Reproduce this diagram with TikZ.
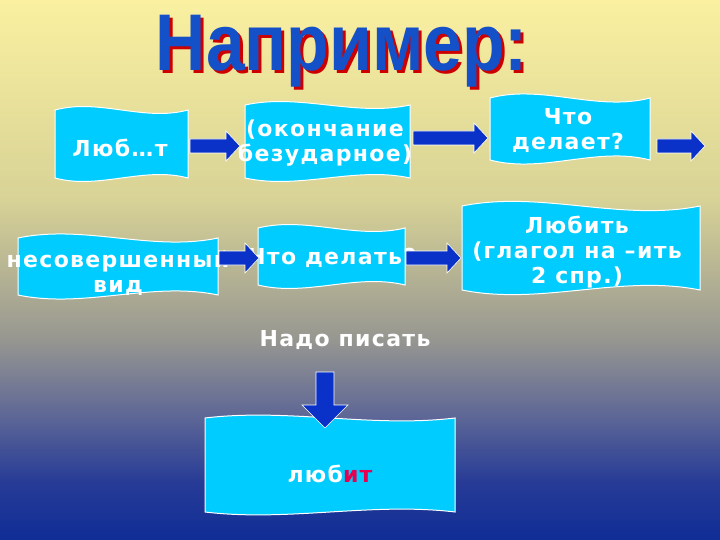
\documentclass[tikz,border=0pt]{standalone}
\usepackage{fontspec}
\setmainfont{DejaVu Sans}
\definecolor{boxc}{RGB}{0,204,255}
\definecolor{arrc}{RGB}{10,50,200}
\definecolor{titc}{RGB}{20,80,200}
\definecolor{redc}{RGB}{230,0,80}
\definecolor{bg1}{RGB}{250,240,160}
\definecolor{bg2}{RGB}{215,210,150}
\definecolor{bg3}{RGB}{150,150,145}
\definecolor{bg4}{RGB}{90,100,150}
\definecolor{bg5}{RGB}{40,60,150}
\definecolor{bg6}{RGB}{15,45,150}
\newcommand\wbox[5]{% x1 y1 x2 y2 amp
  \fill[boxc,draw=white,line width=1pt] (#1,#2) .. controls ({#1+(#3-#1)/3},{#2-#5}) and ({#1+2*(#3-#1)/3},{#2+#5}) .. (#3,#2)
  -- (#3,#4) .. controls ({#1+2*(#3-#1)/3},{#4-#5}) and ({#1+(#3-#1)/3},{#4+#5}) .. (#1,#4) -- cycle;}
\newcommand\rarr[3]{% x1 x2 y : right arrow
  \fill[arrc,draw=white,line width=0.6pt] (#1,{#3-7}) -- ({#2-14},{#3-7}) -- ({#2-14},{#3-15}) -- (#2,#3) -- ({#2-14},{#3+15}) -- ({#2-14},{#3+7}) -- (#1,{#3+7}) -- cycle;}
\tikzset{lbl/.style={white,font=\bfseries\fontsize{22}{25}\selectfont\addfontfeature{LetterSpace=6},align=center,inner sep=0}}
\begin{document}
\begin{tikzpicture}[x=1pt,y=-1pt]
\shade[top color=bg1,bottom color=bg2] (0,0) rectangle (720,201);
\shade[top color=bg2,bottom color=bg3] (0,200) rectangle (720,341);
\shade[top color=bg3,bottom color=bg4] (0,340) rectangle (720,421);
\shade[top color=bg4,bottom color=bg5] (0,420) rectangle (720,481);
\shade[top color=bg5,bottom color=bg6] (0,480) rectangle (720,540);
\useasboundingbox (0,0) rectangle (720,540);
% title
\node[red!80!black,inner sep=0] at (345,54) {\resizebox*{372pt}{72pt}{\bfseries\fontspec{Liberation Sans}Например:}};
\node[titc,inner sep=0] (title) at (342,51) {\resizebox*{372pt}{72pt}{\bfseries\fontspec{Liberation Sans}Например:}};
% boxes
\wbox{55}{110}{188}{178}{12}
\wbox{245}{105}{410}{178}{12}
\wbox{490}{98}{650}{160}{14}
\wbox{18}{238}{218}{295}{14}
\wbox{258}{228}{405}{285}{12}
\wbox{462}{206}{700}{290}{16}
\wbox{205}{418}{455}{512}{10}
\node[lbl] (a) at (120,148) {Люб…т};
\node[lbl] (b) at (325,143) {(окончание\\безударное)};
\node[lbl] (c) at (568,131) {Что\\делает?};
\node[lbl] (d) at (118,273) {несовершенный\\вид};
\node[lbl] (e) at (332,258) {Что делать?};
\node[lbl] (f) at (577,252) {Любить\\(глагол на –ить\\2 спр.)};
\node[lbl] (g) at (345,340) {Надо писать};
\node[lbl] (h) at (330,474) {люб\textcolor{redc}{ит}};
% arrows
\rarr{190}{240}{146}
\rarr{413}{488}{138}
\rarr{657}{705}{146}
\rarr{219}{259}{258}
\rarr{406}{461}{258}
\fill[arrc,draw=white,line width=0.6pt] (316,372) -- (334,372) -- (334,405) -- (348,405) -- (325,428) -- (302,405) -- (316,405) -- cycle;
\end{tikzpicture}
\end{document}
